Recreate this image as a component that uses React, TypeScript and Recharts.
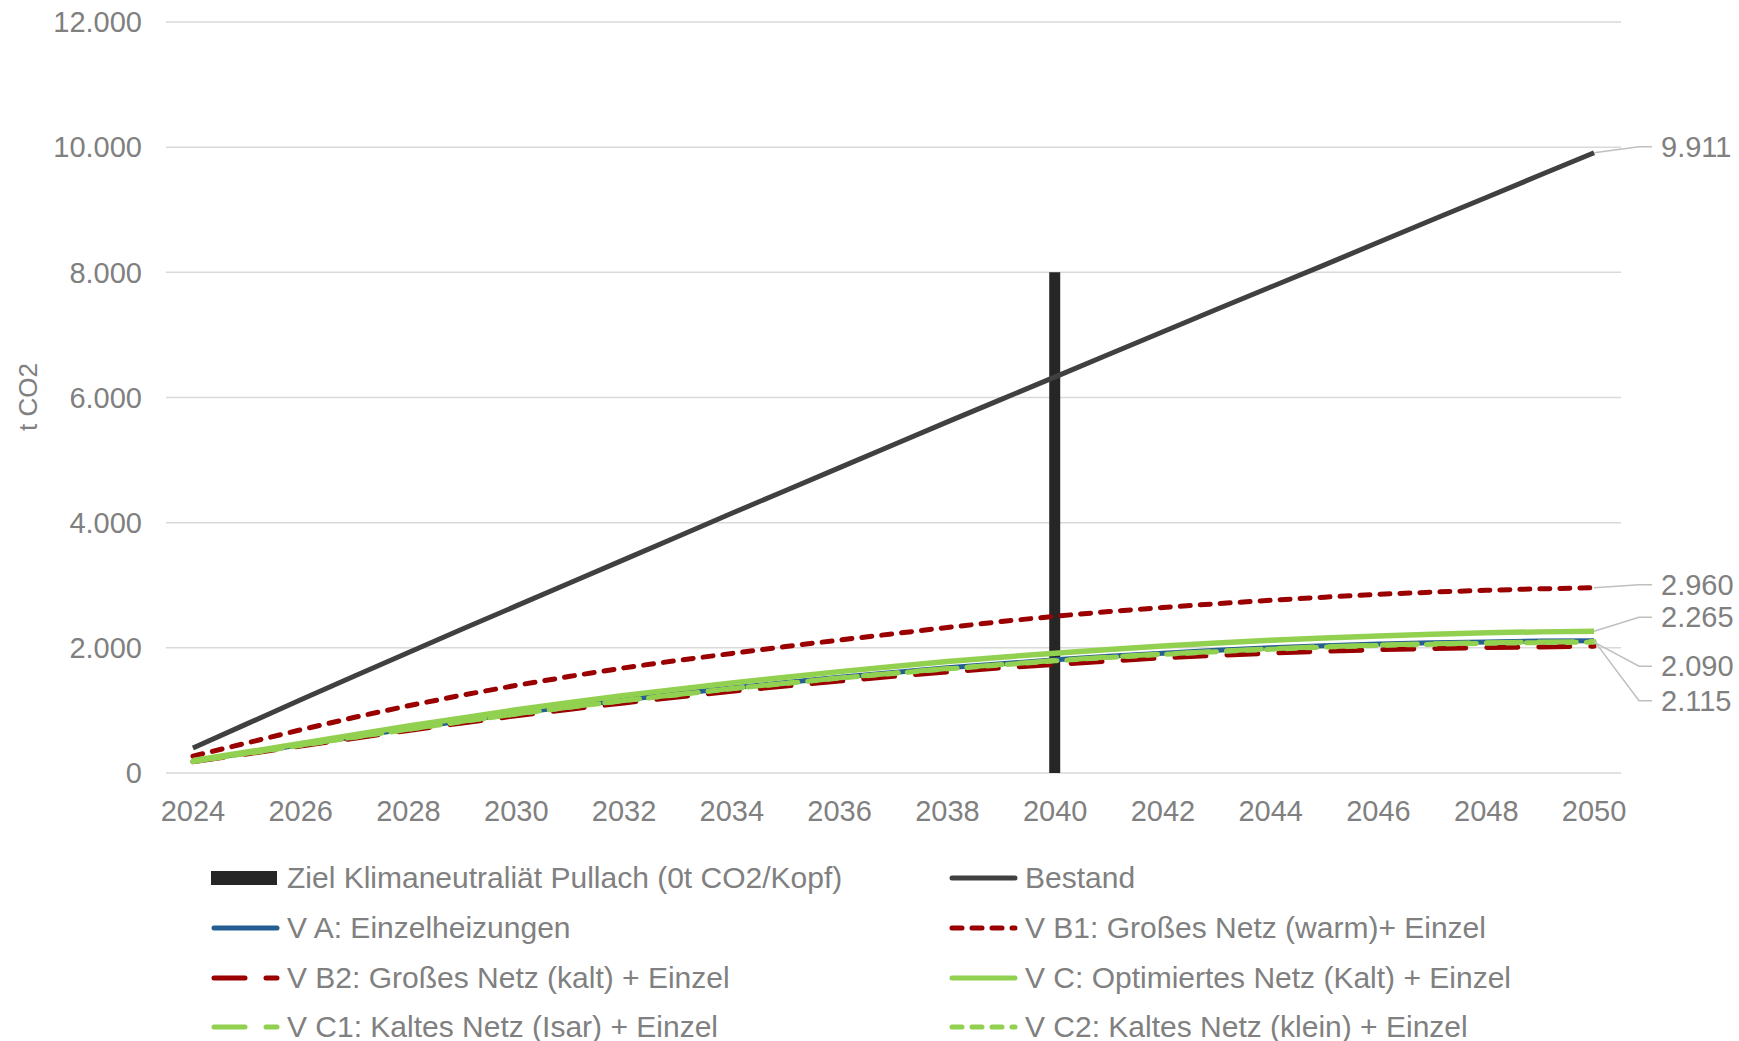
import React from 'react';
import {
  ComposedChart,
  Bar,
  Line,
  XAxis,
  YAxis,
  CartesianGrid,
  Legend,
  LabelList,
} from 'recharts';

const years = [
  2024, 2025, 2026, 2027, 2028, 2029, 2030, 2031, 2032, 2033, 2034, 2035, 2036, 2037,
  2038, 2039, 2040, 2041, 2042, 2043, 2044, 2045, 2046, 2047, 2048, 2049, 2050,
];

// Ziel Klimaneutralität: one bar at 2040
const ziel = [
  null, null, null, null, null, null, null, null, null, null, null, null, null, null,
  null, null, 8000, null, null, null, null, null, null, null, null, null, null,
];

const bestand = [
  400, 785, 1170, 1550, 1925, 2300, 2670, 3040, 3410, 3780, 4150, 4515, 4880, 5245,
  5610, 5970, 6330, 6690, 7050, 7410, 7765, 8120, 8480, 8840, 9195, 9555, 9911,
];

const vA = [
  190, 320, 450, 580, 710, 835, 955, 1065, 1170, 1265, 1360, 1445, 1530, 1605,
  1680, 1745, 1810, 1865, 1915, 1960, 2000, 2035, 2060, 2080, 2095, 2108, 2115,
];

const vB1 = [
  270, 480, 690, 890, 1075, 1245, 1400, 1545, 1680, 1800, 1910, 2020, 2125, 2225,
  2325, 2420, 2505, 2580, 2645, 2705, 2760, 2810, 2855, 2890, 2920, 2943, 2960,
];

const vB2 = [
  180, 305, 430, 555, 680, 800, 915, 1020, 1120, 1215, 1305, 1390, 1470, 1545,
  1615, 1680, 1735, 1790, 1840, 1880, 1915, 1945, 1970, 1990, 2005, 2015, 2025,
];

const vC = [
  200, 335, 470, 610, 750, 880, 1010, 1125, 1240, 1340, 1440, 1530, 1620, 1700,
  1780, 1850, 1915, 1975, 2030, 2078, 2120, 2158, 2190, 2218, 2240, 2255, 2265,
];

const vC1 = [
  185, 315, 445, 575, 700, 825, 945, 1055, 1160, 1255, 1350, 1435, 1520, 1595,
  1668, 1733, 1798, 1852, 1902, 1945, 1985, 2020, 2045, 2065, 2080, 2092, 2100,
];

const vC2 = [
  185, 312, 442, 572, 698, 822, 942, 1052, 1157, 1252, 1347, 1432, 1516, 1591,
  1664, 1728, 1792, 1846, 1895, 1938, 1977, 2012, 2037, 2057, 2072, 2083, 2090,
];

const yTicks = [0, 2000, 4000, 6000, 8000, 10000, 12000];

const data = years.map((year, i) => ({
  year,
  ziel: ziel[i],
  bestand: bestand[i],
  vA: vA[i],
  vB1: vB1[i],
  vB2: vB2[i],
  vC: vC[i],
  vC1: vC1[i],
  vC2: vC2[i],
}));

const GREY = '#808080';
const DARK_RED = '#9a0000';
const GREEN = '#92d050';
const BLUE = '#255e91';

const fmt = (n: number) => String(n).replace(/\B(?=(\d{3})+(?!\d))/g, '.');

// label at the last point with a grey leader line to the right
const endLabel = (dy: number) => (props: any) => {
  const { x, y, index, value } = props;
  if (index !== years.length - 1 || x == null || y == null) return null;
  const ly = y + dy;
  return (
    <g>
      <polyline
        points={`${x},${y} ${x + 45},${ly} ${x + 58},${ly}`}
        fill="none"
        stroke="#bfbfbf"
        strokeWidth={1.5}
      />
      <text x={x + 67} y={ly} dy="0.35em" fill={GREY} fontSize={29}>
        {fmt(value)}
      </text>
    </g>
  );
};

const legendItems = [
  { label: 'Ziel Klimaneutraliät Pullach (0t CO2/Kopf)', type: 'bar', color: '#262626' },
  { label: 'Bestand', color: '#404040' },
  { label: 'V A: Einzelheizungen', color: BLUE },
  { label: 'V B1: Großes Netz (warm)+ Einzel', color: DARK_RED, dash: '10 10' },
  { label: 'V B2: Großes Netz (kalt) + Einzel', color: DARK_RED, dash: '31 21' },
  { label: 'V C: Optimiertes Netz (Kalt) + Einzel', color: GREEN },
  { label: 'V C1: Kaltes Netz (Isar) + Einzel', color: GREEN, dash: '31 21' },
  { label: 'V C2: Kaltes Netz (klein) + Einzel', color: GREEN, dash: '10 10' },
];

const rowY = [28, 78, 128, 177];
const colX = [211, 949];

const LegendContent = () => (
  <div style={{ position: 'relative', width: 1739, height: 191 }}>
    {legendItems.map((item, i) => {
      const row = Math.floor(i / 2);
      const col = i % 2;
      return (
        <div
          key={item.label}
          style={{
            position: 'absolute',
            left: colX[col],
            top: rowY[row] - 20,
            height: 40,
            display: 'flex',
            alignItems: 'center',
            whiteSpace: 'nowrap',
          }}
        >
          <svg width={72} height={20} style={{ marginRight: 4 }}>
            {item.type === 'bar' ? (
              <rect x={0} y={3} width={66} height={14} fill={item.color} />
            ) : (
              <line
                x1={3}
                x2={66}
                y1={10}
                y2={10}
                stroke={item.color}
                strokeWidth={5}
                strokeLinecap="round"
                strokeDasharray={item.dash}
              />
            )}
          </svg>
          <span style={{ color: GREY, fontSize: 30 }}>{item.label}</span>
        </div>
      );
    })}
  </div>
);

export default function App() {
  return (
    <div
      style={{
        position: 'absolute',
        left: 0,
        top: 0,
        width: 1739,
        height: 1041,
        background: '#ffffff',
        fontFamily: '"Liberation Sans", Arial, sans-serif',
      }}
    >
      <ComposedChart
        width={1739}
        height={1041}
        data={data}
        margin={{ top: 22, right: 118, left: 0, bottom: 218 }}
      >
        <CartesianGrid vertical={false} stroke="#d9d9d9" strokeWidth={1.5} />
        <XAxis
          dataKey="year"
          interval={1}
          axisLine={false}
          tickLine={false}
          tickSize={0}
          tickMargin={27}
          height={50}
          tick={{ fill: GREY, fontSize: 29 }}
        />
        <YAxis
          width={166}
          domain={[0, 12000]}
          ticks={yTicks}
          tickFormatter={fmt}
          axisLine={false}
          tickLine={false}
          tickSize={0}
          tickMargin={24}
          tick={{ fill: GREY, fontSize: 29 }}
          label={{
            value: 't CO2',
            content: () => (
              <text
                x={28}
                y={397}
                transform="rotate(-90 28 397)"
                textAnchor="middle"
                dy="0.35em"
                fill={GREY}
                fontSize={26}
              >
                t CO2
              </text>
            ),
          }}
        />
        <Legend
          layout="vertical"
          align="center"
          verticalAlign="middle"
          wrapperStyle={{ position: 'absolute', left: 0, top: 850, width: 1739, height: 191 }}
          content={() => <LegendContent />}
        />
        <Bar dataKey="ziel" fill="#262626" barSize={11} isAnimationActive={false} />
        <Line
          dataKey="bestand"
          stroke="#404040"
          strokeWidth={5}
          dot={false}
          isAnimationActive={false}
        >
          <LabelList dataKey="bestand" content={endLabel(-6)} />
        </Line>
        <Line dataKey="vA" stroke={BLUE} strokeWidth={5} dot={false} isAnimationActive={false}>
          <LabelList dataKey="vA" content={endLabel(60)} />
        </Line>
        <Line
          dataKey="vB1"
          stroke={DARK_RED}
          strokeWidth={5}
          strokeDasharray="10 10"
          strokeLinecap="round"
          dot={false}
          isAnimationActive={false}
        >
          <LabelList dataKey="vB1" content={endLabel(-3)} />
        </Line>
        <Line
          dataKey="vB2"
          stroke={DARK_RED}
          strokeWidth={5}
          strokeDasharray="31 21"
          strokeLinecap="round"
          dot={false}
          isAnimationActive={false}
        />
        <Line dataKey="vC" stroke={GREEN} strokeWidth={5.5} dot={false} isAnimationActive={false}>
          <LabelList dataKey="vC" content={endLabel(-14)} />
        </Line>
        <Line
          dataKey="vC1"
          stroke={GREEN}
          strokeWidth={5}
          strokeDasharray="35 17"
          strokeLinecap="round"
          dot={false}
          isAnimationActive={false}
        />
        <Line
          dataKey="vC2"
          stroke={GREEN}
          strokeWidth={5}
          strokeDasharray="10 10"
          strokeLinecap="round"
          dot={false}
          isAnimationActive={false}
        >
          <LabelList dataKey="vC2" content={endLabel(24)} />
        </Line>
      </ComposedChart>
    </div>
  );
}
